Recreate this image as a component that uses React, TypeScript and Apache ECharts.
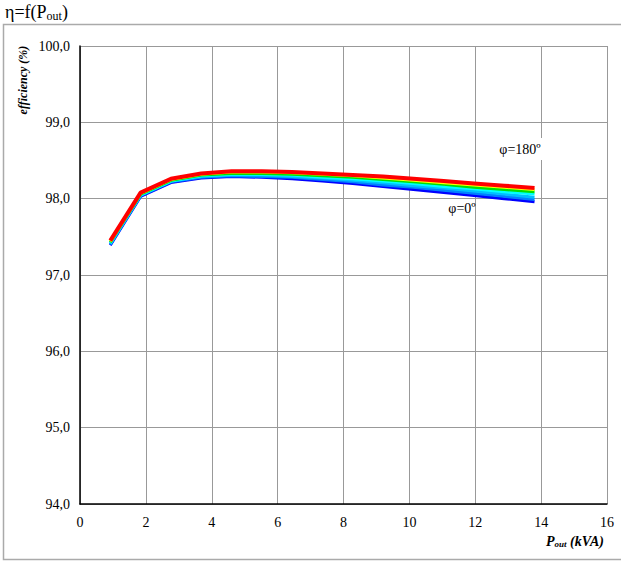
import React, { useEffect, useRef } from "react";
import * as echarts from "echarts";

const powerKVA = [0.92, 1.84, 2.76, 3.68, 4.6, 5.52, 6.44, 7.36, 8.28, 9.2, 10.12, 11.04, 11.96, 12.88, 13.8];
const phiLabels = ["φ=0°", "φ=30°", "φ=60°", "φ=90°", "φ=120°", "φ=150°", "φ=180°"];
const phiColors = ["#0000ff", "#0080ff", "#00bfff", "#00ffff", "#00e000", "#ffff00", "#ff0000"];
const eff0 = [97.39, 98.03, 98.21, 98.27, 98.29, 98.28, 98.26, 98.23, 98.2, 98.16, 98.12, 98.08, 98.04, 98.0, 97.96];
const eff30 = [97.4, 98.04, 98.22, 98.28, 98.3, 98.29, 98.28, 98.25, 98.22, 98.18, 98.15, 98.11, 98.07, 98.03, 97.99];
const eff60 = [97.41, 98.05, 98.23, 98.29, 98.31, 98.31, 98.29, 98.27, 98.24, 98.21, 98.17, 98.14, 98.1, 98.06, 98.02];
const eff90 = [97.42, 98.05, 98.23, 98.3, 98.32, 98.32, 98.31, 98.28, 98.26, 98.23, 98.2, 98.16, 98.13, 98.09, 98.06];
const eff120 = [97.43, 98.06, 98.24, 98.31, 98.33, 98.33, 98.32, 98.3, 98.28, 98.25, 98.22, 98.19, 98.15, 98.12, 98.09];
const eff150 = [97.44, 98.07, 98.25, 98.32, 98.35, 98.35, 98.34, 98.32, 98.3, 98.27, 98.24, 98.21, 98.18, 98.15, 98.12];
const eff180 = [97.45, 98.08, 98.26, 98.33, 98.36, 98.36, 98.35, 98.33, 98.31, 98.29, 98.26, 98.23, 98.2, 98.17, 98.14];
const effSeries = [eff0, eff30, eff60, eff90, eff120, eff150, eff180];
const xTicks = [0, 2, 4, 6, 8, 10, 12, 14, 16];
const yTicks = [94, 95, 96, 97, 98, 99, 100];

const FONT = "Liberation Serif";

export default function App() {
  const ref = useRef<HTMLDivElement>(null);
  useEffect(() => {
    document.body.style.margin = "0";
    const chart = echarts.init(ref.current!, null, { renderer: "svg" });
    const series: any[] = effSeries.map((vals, i) => ({
      name: phiLabels[i],
      type: "line",
      symbol: "none",
      data: powerKVA.map((x, j) => [x, vals[j]]),
      lineStyle: { color: phiColors[i], width: i === 6 ? 4 : 3 },
      itemStyle: { color: phiColors[i] },
      z: 2 + i,
    }));
    chart.setOption({
      animation: false,
      backgroundColor: "#ffffff",
      grid: { left: 80, top: 46, width: 527, height: 458, containLabel: false },
      xAxis: {
        type: "value",
        min: xTicks[0],
        max: xTicks[xTicks.length - 1],
        interval: 2,
        axisLine: { show: true, onZero: false, lineStyle: { color: "#000", width: 1.5 } },
        axisTick: { show: false },
        axisLabel: { color: "#000", fontFamily: FONT, fontSize: 14, margin: 11 },
        splitLine: { show: true, lineStyle: { color: "#999", width: 1 } },
      },
      yAxis: {
        type: "value",
        min: yTicks[0],
        max: yTicks[yTicks.length - 1],
        interval: 1,
        axisLine: { show: true, onZero: false, lineStyle: { color: "#000", width: 1.5 } },
        axisTick: { show: false },
        axisLabel: {
          color: "#000",
          fontFamily: FONT,
          fontSize: 14,
          margin: 10,
          formatter: (v: number) => v.toFixed(1).replace(".", ","),
        },
        splitLine: { show: true, lineStyle: { color: "#999", width: 1 } },
      },
      series,
      graphic: [
        {
          type: "rect",
          shape: { x: 3.5, y: 24.5, width: 640, height: 535 },
          style: { fill: "none", stroke: "#aaa", lineWidth: 1.5 },
          silent: true,
        },
        {
          type: "text",
          x: 5,
          y: 2,
          style: {
            text: "{a|η=f(P}{b|out}{a|)}",
            fontFamily: FONT,
            rich: {
              a: { fontFamily: FONT, fontSize: 18, fill: "#000" },
              b: { fontFamily: FONT, fontSize: 12, fill: "#000", padding: [8, 0, 0, 0] },
            },
          },
        },
        {
          type: "text",
          x: 23,
          y: 80,
          rotation: Math.PI / 2,
          style: {
            text: "efficiency (%)",
            fontFamily: FONT,
            fontSize: 12,
            fontWeight: "bold",
            fontStyle: "italic",
            fill: "#000",
            align: "center",
            verticalAlign: "middle",
          },
        },
        {
          type: "text",
          x: 604,
          y: 541,
          style: {
            text: "{p|P}{s|out}{p| (kVA)}",
            fontFamily: FONT,
            align: "right",
            verticalAlign: "middle",
            rich: {
              p: { fontFamily: FONT, fontSize: 14, fontWeight: "bold", fontStyle: "italic", fill: "#000" },
              s: { fontFamily: FONT, fontSize: 9, fontWeight: "bold", fontStyle: "italic", fill: "#000", padding: [6, 0, 0, 0] },
            },
          },
        },
        {
          type: "text",
          x: 520,
          y: 149,
          z: 10,
          style: {
            text: "φ=180º",
            fontFamily: FONT,
            fontSize: 14,
            fill: "#000",
            align: "center",
            verticalAlign: "middle",
            backgroundColor: "#fff",
            padding: [4, 3, 4, 3],
          },
        },
        {
          type: "text",
          x: 462,
          y: 208,
          z: 10,
          style: {
            text: "φ=0º",
            fontFamily: FONT,
            fontSize: 14,
            fill: "#000",
            align: "center",
            verticalAlign: "middle",
          },
        },
      ],
    });
    return () => chart.dispose();
  }, []);
  return <div ref={ref} style={{ position: "fixed", left: 0, top: 0, width: 621, height: 561 }} />;
}
